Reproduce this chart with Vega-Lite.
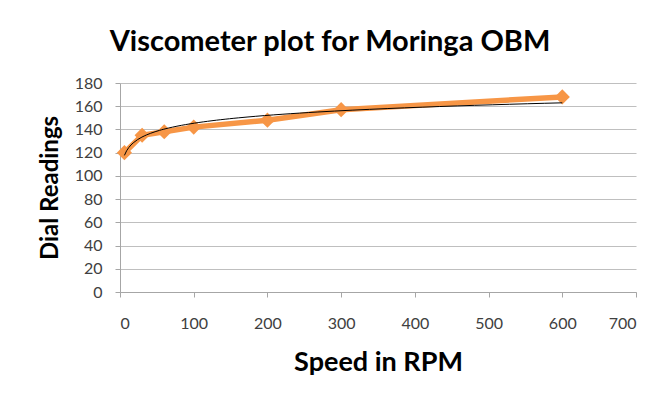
{
  "$schema": "https://vega.github.io/schema/vega-lite/v6.json",
  "autosize": "none",
  "width": 516,
  "height": 209,
  "padding": {"left": 120, "top": 83, "right": 24, "bottom": 108},
  "background": "white",
  "title": {
    "text": "Viscometer plot for Moringa OBM",
    "font": "Lato",
    "fontSize": 29,
    "fontWeight": "bold",
    "color": "#000000",
    "anchor": "middle",
    "dx": -48,
    "offset": 18
  },
  "data": {
    "values": [
      {"rpm": 6, "dial": 120},
      {"rpm": 30, "dial": 135},
      {"rpm": 60, "dial": 138},
      {"rpm": 100, "dial": 142},
      {"rpm": 200, "dial": 148},
      {"rpm": 300, "dial": 157},
      {"rpm": 600, "dial": 168}
    ]
  },
  "config": {
    "view": {"stroke": null}
  },
  "encoding": {
    "x": {
      "field": "rpm",
      "type": "quantitative",
      "scale": {"domain": [0, 700], "nice": false},
      "axis": {
        "values": [0, 100, 200, 300, 400, 500, 600, 700],
        "grid": false,
        "title": "Speed in RPM",
        "titleFont": "Lato", "titleFontSize": 27, "titleFontWeight": "bold", "titleColor": "#000000",
        "labelFont": "Lato", "labelFontSize": 16, "labelColor": "#404040", "labelOverlap": false,
        "domainColor": "#a6a6a6", "tickColor": "#a6a6a6", "tickSize": 5,
        "labelPadding": 18, "titlePadding": 18
      }
    },
    "y": {
      "field": "dial",
      "type": "quantitative",
      "scale": {"domain": [0, 180], "nice": false},
      "axis": {
        "values": [0, 20, 40, 60, 80, 100, 120, 140, 160, 180],
        "grid": true, "gridColor": "#bfbfbf",
        "title": "Dial Readings",
        "titleFont": "Lato", "titleFontSize": 24, "titleFontWeight": "bold", "titleColor": "#000000",
        "labelFont": "Lato", "labelFontSize": 16, "labelColor": "#404040", "labelOverlap": false,
        "domainColor": "#a6a6a6", "tickColor": "#a6a6a6", "tickSize": 5,
        "labelPadding": 13, "titlePadding": 12
      }
    }
  },
  "layer": [
    {
      "mark": {"type": "line", "color": "#F79646", "strokeWidth": 5.5}
    },
    {
      "mark": {"type": "point", "shape": "diamond", "filled": true, "color": "#F79646", "size": 230, "opacity": 1}
    },
    {
      "transform": [{"regression": "dial", "on": "rpm", "method": "log"}],
      "mark": {"type": "line", "color": "#000000", "strokeWidth": 1}
    }
  ]
}
